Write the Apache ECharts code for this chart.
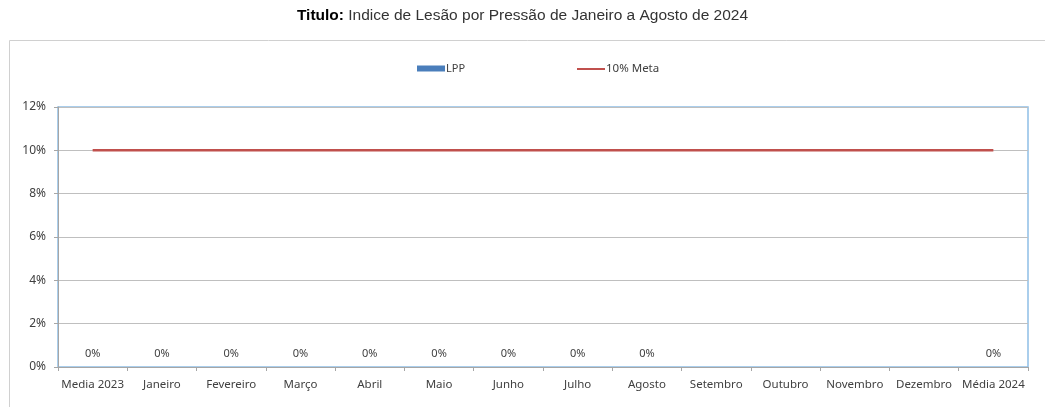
<!DOCTYPE html>
<html><head><meta charset="utf-8">
<script src="https://cdn.jsdelivr.net/npm/echarts@6/dist/echarts.min.js"></script>
<style>html,body{margin:0;padding:0;background:#fff}#c{width:1045px;height:407px}</style>
</head><body><div id="c"></div>
<script>
const categories = ['Media 2023','Janeiro','Fevereiro','Março','Abril','Maio','Junho','Julho','Agosto','Setembro','Outubro','Novembro','Dezembro','Média 2024'];
const lppValues = [0,0,0,0,0,0,0,0,0,null,null,null,null,0];
const metaValues = [10,10,10,10,10,10,10,10,10,10,10,10,10,10];
const yTicks = [0,2,4,6,8,10,12];

const chart = echarts.init(document.getElementById('c'));
const font = 'Noto Sans';
chart.setOption({
  animation:false,
  backgroundColor:'#fff',
  graphic:[{type:'rect',shape:{x:9.5,y:40.5,width:1100,height:400},style:{fill:'none',stroke:'#d0d0d0',lineWidth:1},z:-1}],
  title:{
    text:'{b|Titulo:} Indice de Lesão por Pressão de Janeiro a Agosto de 2024',
    left:'center', top:3,
    textStyle:{fontFamily:'Liberation Sans',fontSize:15.5,fontWeight:'normal',color:'#333',
      rich:{b:{fontFamily:'Liberation Sans',fontSize:15.5,fontWeight:'bold',color:'#000'}}}
  },
  legend:[
    {data:[{name:'LPP',icon:'rect'}],left:412,top:58,itemWidth:28,itemHeight:6,itemGap:2,
     textStyle:{fontFamily:font,fontSize:11,color:'#404040',padding:[0,0,0,-4]}},
    {data:[{name:'10% Meta',icon:'rect'}],left:572,top:58,itemWidth:28,itemHeight:2,
     itemStyle:{color:'#c0504d'},
     textStyle:{fontFamily:font,fontSize:11.5,color:'#404040',padding:[0,0,0,-4]}}
  ],
  grid:{left:58,right:17,top:107,bottom:40,show:true,borderColor:'#8fbfe6',borderWidth:1.5,containLabel:false},
  xAxis:{type:'category',data:categories,boundaryGap:true,
    axisLine:{lineStyle:{color:'#a6a6a6'}},
    axisTick:{show:true,length:4,lineStyle:{color:'#a6a6a6'}},
    axisLabel:{fontFamily:font,fontSize:11.5,color:'#404040',margin:12,interval:0}},
  yAxis:{type:'value',min:0,max:12,interval:2,
    axisLine:{show:true,lineStyle:{color:'#a6a6a6'}},
    axisTick:{show:true,length:4,lineStyle:{color:'#a6a6a6'}},
    splitLine:{lineStyle:{color:'#bfbfbf'}},
    axisLabel:{fontFamily:font,fontSize:12,color:'#404040',margin:12,formatter:v=>v+'%'}},
  series:[
    {name:'LPP',type:'bar',data:lppValues,barWidth:'50%',itemStyle:{color:'#4a7ebb'},
     label:{show:true,position:'top',distance:8,fontFamily:font,fontSize:11,color:'#404040',formatter:p=>p.value+'%'}},
    {name:'10% Meta',type:'line',data:metaValues,symbol:'none',lineStyle:{color:'#c0504d',width:2.5},itemStyle:{color:'#c0504d'}}
  ]
});
</script></body></html>
